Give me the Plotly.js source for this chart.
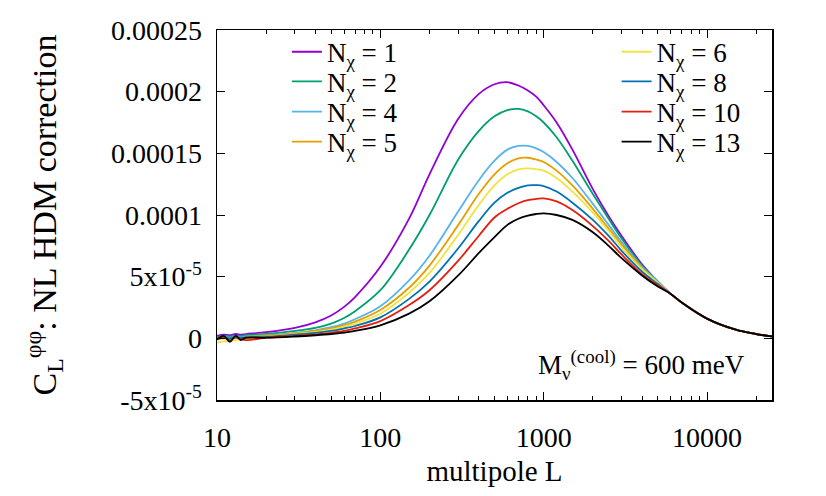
<!DOCTYPE html>
<html>
<head>
<meta charset="utf-8">
<script src="https://cdn.plot.ly/plotly-3.0.1.min.js"></script>
<style>body{margin:0;background:#fff;}</style>
</head>
<body>
<div id="chart" style="width:826px;height:496px;"></div>
<script>
// multipole values shared by every curve
var ell = [10, 11, 12, 13, 14, 15, 20, 30, 40, 50, 60, 70, 100, 150, 200, 300, 400, 500, 600, 700, 800, 900,
           1000, 1200, 1500, 2000, 2500, 3000, 4000, 5000, 6000, 7000, 10000, 15000, 20000, 25000];

// curves, in units of 1e-5
var n1  = [0.2, 0.3, 0.25, 0.35, 0.3, 0.35, 0.5, 0.85, 1.3, 1.85, 2.55, 3.35, 5.8, 9.7, 13.3, 17.8, 19.8, 20.6, 20.77, 20.5, 20.1, 19.6,
           18.9, 17.5, 15.3, 12.1, 9.9, 8.3, 6.0, 4.6, 3.6, 2.9, 1.6, 0.7, 0.35, 0.15];
var n2  = [0.1, 0.2, 0.15, 0.2, 0.2, 0.25, 0.35, 0.6, 0.85, 1.2, 1.65, 2.2, 3.9, 7.2, 10.0, 14.5, 16.8, 18.0, 18.5, 18.6, 18.4, 18.0,
           17.5, 16.3, 14.4, 11.7, 9.7, 8.1, 5.9, 4.6, 3.6, 2.9, 1.6, 0.7, 0.35, 0.15];
var n4  = [0.0, 0.1, 0.05, 0.1, 0.1, 0.15, 0.25, 0.45, 0.65, 0.9, 1.2, 1.55, 2.6, 4.7, 6.7, 10.3, 12.8, 14.4, 15.3, 15.6, 15.6, 15.4,
           15.1, 14.3, 13.0, 10.9, 9.2, 7.8, 5.8, 4.6, 3.6, 2.9, 1.6, 0.7, 0.35, 0.15];
var n5  = [-0.1, 0.0, -0.05, 0.05, 0.0, 0.1, 0.2, 0.4, 0.6, 0.8, 1.05, 1.35, 2.3, 4.1, 5.9, 9.2, 11.7, 13.3, 14.2, 14.6, 14.64, 14.5,
           14.3, 13.6, 12.4, 10.5, 8.9, 7.6, 5.7, 4.5, 3.6, 2.9, 1.6, 0.7, 0.35, 0.15];
var n6  = [-0.35, -0.25, -0.2, -0.15, -0.1, -0.05, 0.1, 0.35, 0.5, 0.7, 0.95, 1.2, 2.0, 3.7, 5.3, 8.4, 10.8, 12.4, 13.3, 13.7, 13.78, 13.72,
           13.6, 13.0, 11.9, 10.2, 8.7, 7.4, 5.6, 4.5, 3.6, 2.9, 1.6, 0.7, 0.35, 0.15];
var n8  = [0.0, 0.05, 0.0, 0.05, 0.05, 0.05, 0.1, 0.3, 0.45, 0.6, 0.8, 1.0, 1.7, 3.2, 4.6, 7.3, 9.5, 11.0, 11.8, 12.2, 12.4, 12.42,
           12.35, 11.9, 11.0, 9.6, 8.3, 7.1, 5.4, 4.4, 3.6, 2.9, 1.6, 0.7, 0.35, 0.15];
var n10 = [-0.1, 0.1, -0.15, 0.1, -0.05, -0.15, 0.05, 0.2, 0.32, 0.45, 0.6, 0.8, 1.4, 2.7, 3.9, 6.3, 8.3, 9.8, 10.5, 10.95, 11.2, 11.3,
           11.35, 11.1, 10.4, 9.1, 7.9, 6.8, 5.2, 4.3, 3.6, 2.9, 1.6, 0.7, 0.35, 0.15];
var n13 = [-0.1, 0.2, -0.28, 0.2, -0.14, 0.05, 0.05, 0.15, 0.25, 0.35, 0.47, 0.6, 1.05, 2.0, 3.0, 5.1, 6.9, 8.2, 9.2, 9.7, 9.95, 10.08,
           10.13, 10.0, 9.6, 8.6, 7.5, 6.5, 5.1, 4.2, 3.6, 2.9, 1.6, 0.7, 0.35, 0.15];

var nchi = ['1', '2', '4', '5', '6', '8', '10', '13'];
var colors = ['#9400d3', '#009e73', '#56b4e9', '#e69f00', '#f0e442', '#0072b2', '#e51e10', '#000000'];
var series = [n1, n2, n4, n5, n6, n8, n10, n13];

var xTickVals = [10, 100, 1000, 10000];
var xTickText = ['10', '100', '1000', '10000'];
var xMinor = [20, 30, 40, 50, 60, 70, 80, 90, 200, 300, 400, 500, 600, 700, 800, 900,
              2000, 3000, 4000, 5000, 6000, 7000, 8000, 9000, 20000];
var yTickVals = [-5e-5, 0, 5e-5, 1e-4, 1.5e-4, 2e-4, 2.5e-4];
var yTickText = ['-5x10<sup>-5</sup>', '0', '5x10<sup>-5</sup>', '0.0001', '0.00015', '0.0002', '0.00025'];

var serif = 'Liberation Serif';

var layout = {
  width: 826,
  height: 496,
  margin: {l: 217, r: 54, t: 30, b: 96},
  paper_bgcolor: 'white',
  plot_bgcolor: 'white',
  font: {family: serif, size: 28, color: 'black'},
  showlegend: true,
  xaxis: {
    type: 'log',
    range: [1, Math.log10(25000)],
    tickmode: 'array',
    tickvals: xTickVals,
    ticktext: xTickText,
    ticks: 'inside',
    ticklen: 8,
    tickcolor: 'black',
    ticklabelstandoff: 12,
    minor: {tickmode: 'array', tickvals: xMinor, ticks: 'inside', ticklen: 4, tickcolor: 'black', showgrid: false},
    showline: true,
    linecolor: 'black',
    linewidth: 1.5,
    mirror: 'ticks',
    showgrid: false,
    zeroline: false,
    title: {text: 'multipole L', standoff: 8, font: {size: 29}}
  },
  yaxis: {
    range: [-5e-5, 2.5e-4],
    tickmode: 'array',
    tickvals: yTickVals,
    ticktext: yTickText,
    ticks: 'inside',
    ticklen: 8,
    tickcolor: 'black',
    ticklabelstandoff: 8,
    showline: true,
    linecolor: 'black',
    linewidth: 1.5,
    mirror: 'ticks',
    showgrid: false,
    zeroline: false,
    title: {text: 'C<sub>L</sub><sup>φφ</sup>: NL HDM correction', standoff: 44}
  },
  annotations: [{
    xref: 'paper', yref: 'paper',
    x: 0.955, y: 0.095,
    xanchor: 'right', yanchor: 'middle',
    showarrow: false,
    text: 'M<sub>ν</sub><sup>(cool)</sup> = 600 meV',
    font: {family: serif, size: 27, color: 'black'}
  }]
};

// one small legend per entry so the rows sit as close as in gnuplot
var legX = [0.126, 0.126, 0.126, 0.126, 0.72, 0.72, 0.72, 0.72];
var legY = [0.94, 0.86, 0.778, 0.697, 0.94, 0.86, 0.778, 0.697];

var traces = [];
for (var i = 0; i < series.length; i++) {
  var legName = i == 0 ? 'legend' : 'legend' + (i + 1);
  traces.push({
    x: ell,
    y: series[i].map(function (v) { return v * 1e-5; }),
    type: 'scatter',
    mode: 'lines',
    line: {color: colors[i], width: 1.8, shape: 'spline', smoothing: 1},
    name: 'N<sub>χ</sub> = ' + nchi[i],
    legend: legName
  });
  layout[legName] = {
    x: legX[i], y: legY[i],
    xanchor: 'left', yanchor: 'middle',
    bgcolor: 'rgba(0,0,0,0)',
    font: {family: serif, size: 27, color: 'black'},
    itemwidth: 30
  };
}

Plotly.newPlot('chart', traces, layout, {displayModeBar: false, staticPlot: true});
</script>
</body>
</html>
